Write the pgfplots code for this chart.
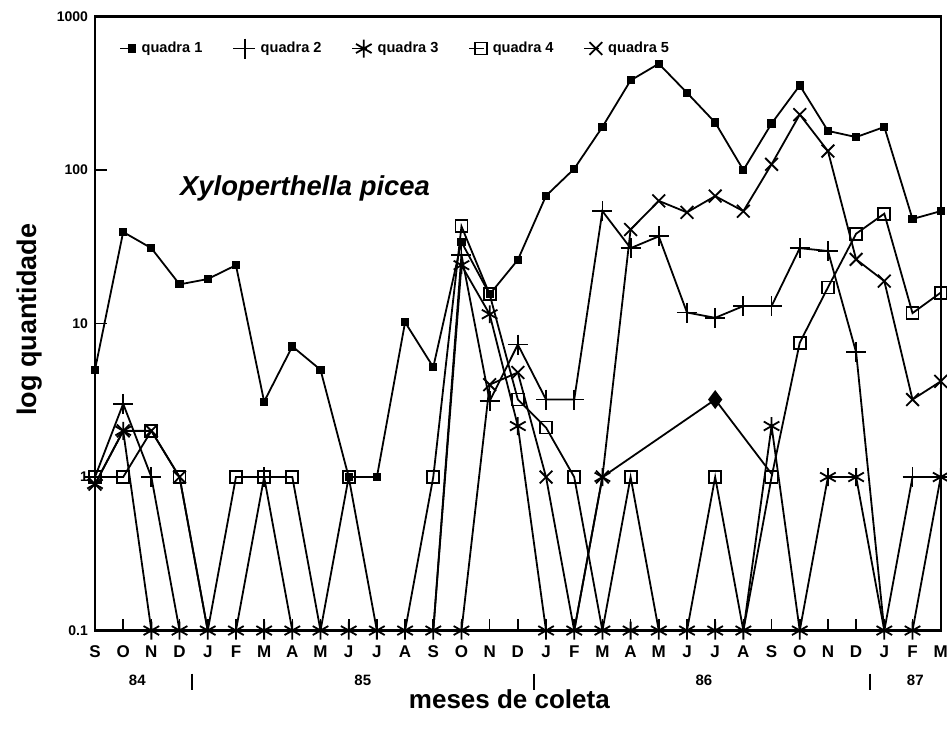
\documentclass[border=0pt]{standalone}
\usepackage{pgfplots}
\usepackage{pgfplotstable}
\pgfplotsset{compat=1.18}
\usepackage{fontspec}
\setmainfont{Liberation Sans}

\pgfplotstableread{
x  a     b     bm    c     cm    d     dm    e     em
0  5     1     1     0.9   0.9   1     1     0.9   0.9
1  39.5  3     3     2     2     1     1     2     2
2  31    1     1     0.1   nan   2     2     2     2
3  18    0.1   nan   0.1   nan   1     1     1     1
4  19.5  0.1   nan   0.1   nan   0.1   nan   0.1   nan
5  24    0.1   nan   0.1   nan   1     1     0.1   nan
6  3.1   1     1     0.1   nan   1     1     0.1   nan
7  7.1   0.1   nan   0.1   nan   1     1     0.1   nan
8  5     0.1   nan   0.1   nan   0.1   nan   0.1   nan
9  1     0.1   nan   0.1   nan   1     1     0.1   nan
10 1     0.1   nan   0.1   nan   0.1   nan   0.1   nan
11 10.2  0.1   nan   0.1   nan   0.1   nan   0.1   nan
12 5.2   0.1   nan   0.1   nan   1     1     0.1   nan
13 34    28    28    24    24    43    43    0.1   nan
14 15.5  3.13  3.13  11.5  11.5  15.5  15.5  4     4
15 26    7.3   7.3   2.15  2.15  3.2   3.2   4.8   4.8
16 68    3.2   3.2   0.1   nan   2.1   2.1   1     1
17 102   3.2   3.2   0.1   nan   1     1     0.1   nan
18 191   54    54    1     1     0.1   nan   1     1
19 384   31    31    nan   nan   1     1     41    41
20 493   37    37    nan   nan   0.1   nan   63    63
21 319   11.8  11.8  nan   nan   0.1   nan   53    53
22 204   10.9  10.9  nan   nan   1     1     67.7  67.7
23 100   13    13    0.1   nan   0.1   nan   54    54
24 201   13    13    2.15  2.15  1     1     109   109
25 356   31    31    0.1   nan   7.5   7.5   230   230
26 180   29.7  29.7  1     1     17.2  17.2  133   133
27 164   6.5   6.5   1     1     38.5  38.5  26.2  26.2
28 191   0.1   nan   0.1   nan   52    52    18.9  18.9
29 48    1     1     0.1   nan   11.7  11.7  3.2   3.2
30 54    1     1     1     1     15.9  15.9  4.2   4.2
}\quadras

\pgfplotstableread{
x   y
2   0.1
3   0.1
4   0.1
5   0.1
6   0.1
7   0.1
8   0.1
9   0.1
10  0.1
11  0.1
12  0.1
13  0.1
16  0.1
17  0.1
18  0.1
19  0.1
20  0.1
21  0.1
22  0.1
23  0.1
25  0.1
28  0.1
29  0.1
}\zeros

\pgfplotstableread{
x   y
18  1
22  3.2
24  1.05
}\extra

\begin{document}
\begin{tikzpicture}
\path[use as bounding box] (-47.5pt,-49.6pt) rectangle (426.05pt,315.3pt);
\begin{axis}[
  at={(0,0)}, anchor=south west,
  scale only axis, width=422.9pt, height=307pt,
  xmin=0, xmax=30, ymode=log, ymin=0.1, ymax=1000,
  axis line style={line width=1.1pt},
  xtick={0,...,30},
  xticklabels={S,O,N,D,J,F,M,A,M,J,J,A,S,O,N,D,J,F,M,A,M,J,J,A,S,O,N,D,J,F,M},
  ytick={0.1,1,10,100,1000},
  yticklabels={0.1,1,10,100,1000},
  yminorticks=false,
  tick align=inside, tick pos=left,
  major tick length=6pt,
  tick style={line width=0.8pt, black},
  xticklabel style={font=\fontsize{8.5}{9}\selectfont\bfseries, yshift=-4pt},
  yticklabel style={font=\fontsize{7}{8}\selectfont\bfseries},
  xlabel={meses de coleta},
  xlabel style={font=\fontsize{13}{15}\selectfont\bfseries, at={(axis description cs:0.49,0)}, anchor=center, yshift=-34.5pt},
  ylabel={log quantidade},
  ylabel style={font=\fontsize{13.5}{15}\selectfont\bfseries, at={(axis description cs:-0.0768,0.506)}, anchor=center},
  clip=false,
  unbounded coords=jump,
  every axis plot/.append style={line width=0.9pt, black},
  legend columns=5,
  legend style={at={(axis description cs:0.0215,0.948)}, anchor=west, draw=none, fill=none,
    font=\fontsize{7.3}{8}\selectfont\bfseries,
    /tikz/every odd column/.append style={column sep=1pt},
    /tikz/every even column/.append style={column sep=13pt}},
  legend image code/.code={\draw[mark repeat=2,mark phase=2] plot coordinates {(0cm,0cm)(0.2cm,0cm)(0.25cm,0cm)};},
]
\addlegendimage{line width=0.9pt, mark=square*, mark size=1.6pt}
\addlegendentry{quadra 1}
\addlegendimage{line width=0.9pt, mark=+, mark size=5pt}
\addlegendentry{quadra 2}
\addlegendimage{line width=0.9pt, mark=asterisk, mark size=4.5pt}
\addlegendentry{quadra 3}
\addlegendimage{line width=0.9pt, mark=square, mark size=3pt, mark options={fill=white}}
\addlegendentry{quadra 4}
\addlegendimage{line width=0.9pt, mark=x, mark size=4.5pt}
\addlegendentry{quadra 5}

% quadra 1
\addplot[forget plot, mark=square*, mark size=1.6pt] table[x=x, y=a] {\quadras};
% quadra 2
\addplot[forget plot, no marks] table[x=x, y=b] {\quadras};
\addplot[forget plot, only marks, mark=+, mark size=5pt, unbounded coords=discard] table[x=x, y=bm] {\quadras};
% quadra 3
\addplot[forget plot, no marks] table[x=x, y=c] {\quadras};
\addplot[forget plot, only marks, mark=asterisk, mark size=4.5pt, unbounded coords=discard] table[x=x, y=cm] {\quadras};
% quadra 4
\addplot[forget plot, no marks] table[x=x, y=d] {\quadras};
\addplot[forget plot, only marks, mark=square, mark size=3pt, mark options={fill=white}, unbounded coords=discard] table[x=x, y=dm] {\quadras};
% quadra 5
\addplot[forget plot, no marks] table[x=x, y=e] {\quadras};
\addplot[forget plot, only marks, mark=x, mark size=4.5pt, unbounded coords=discard] table[x=x, y=em] {\quadras};
% extra segment with diamond
\addplot[forget plot, mark=diamond*, mark size=4pt, mark indices={2}] table[x=x, y=y] {\extra};
% zero counts drawn on the axis
\addplot[forget plot, only marks, mark=asterisk, mark size=4.5pt] table[x=x, y=y] {\zeros};

\node[font=\fontsize{13.7}{16}\selectfont\bfseries\itshape] at (axis cs:7.45,76) {Xyloperthella picea};

\begin{scope}[font=\fontsize{7.5}{8}\selectfont\bfseries]
\node[yshift=-25pt] at (axis cs:1.5,0.1) {84};
\node[yshift=-25pt] at (axis cs:9.5,0.1) {85};
\node[yshift=-25pt] at (axis cs:21.6,0.1) {86};
\node[yshift=-25pt] at (axis cs:29.1,0.1) {87};
\end{scope}
\draw[line width=0.9pt] ([yshift=-21.5pt]axis cs:3.44,0.1) -- ([yshift=-29.5pt]axis cs:3.44,0.1);
\draw[line width=0.9pt] ([yshift=-21.5pt]axis cs:15.58,0.1) -- ([yshift=-29.5pt]axis cs:15.58,0.1);
\draw[line width=0.9pt] ([yshift=-21.5pt]axis cs:27.5,0.1) -- ([yshift=-29.5pt]axis cs:27.5,0.1);
\end{axis}
\end{tikzpicture}
\end{document}
